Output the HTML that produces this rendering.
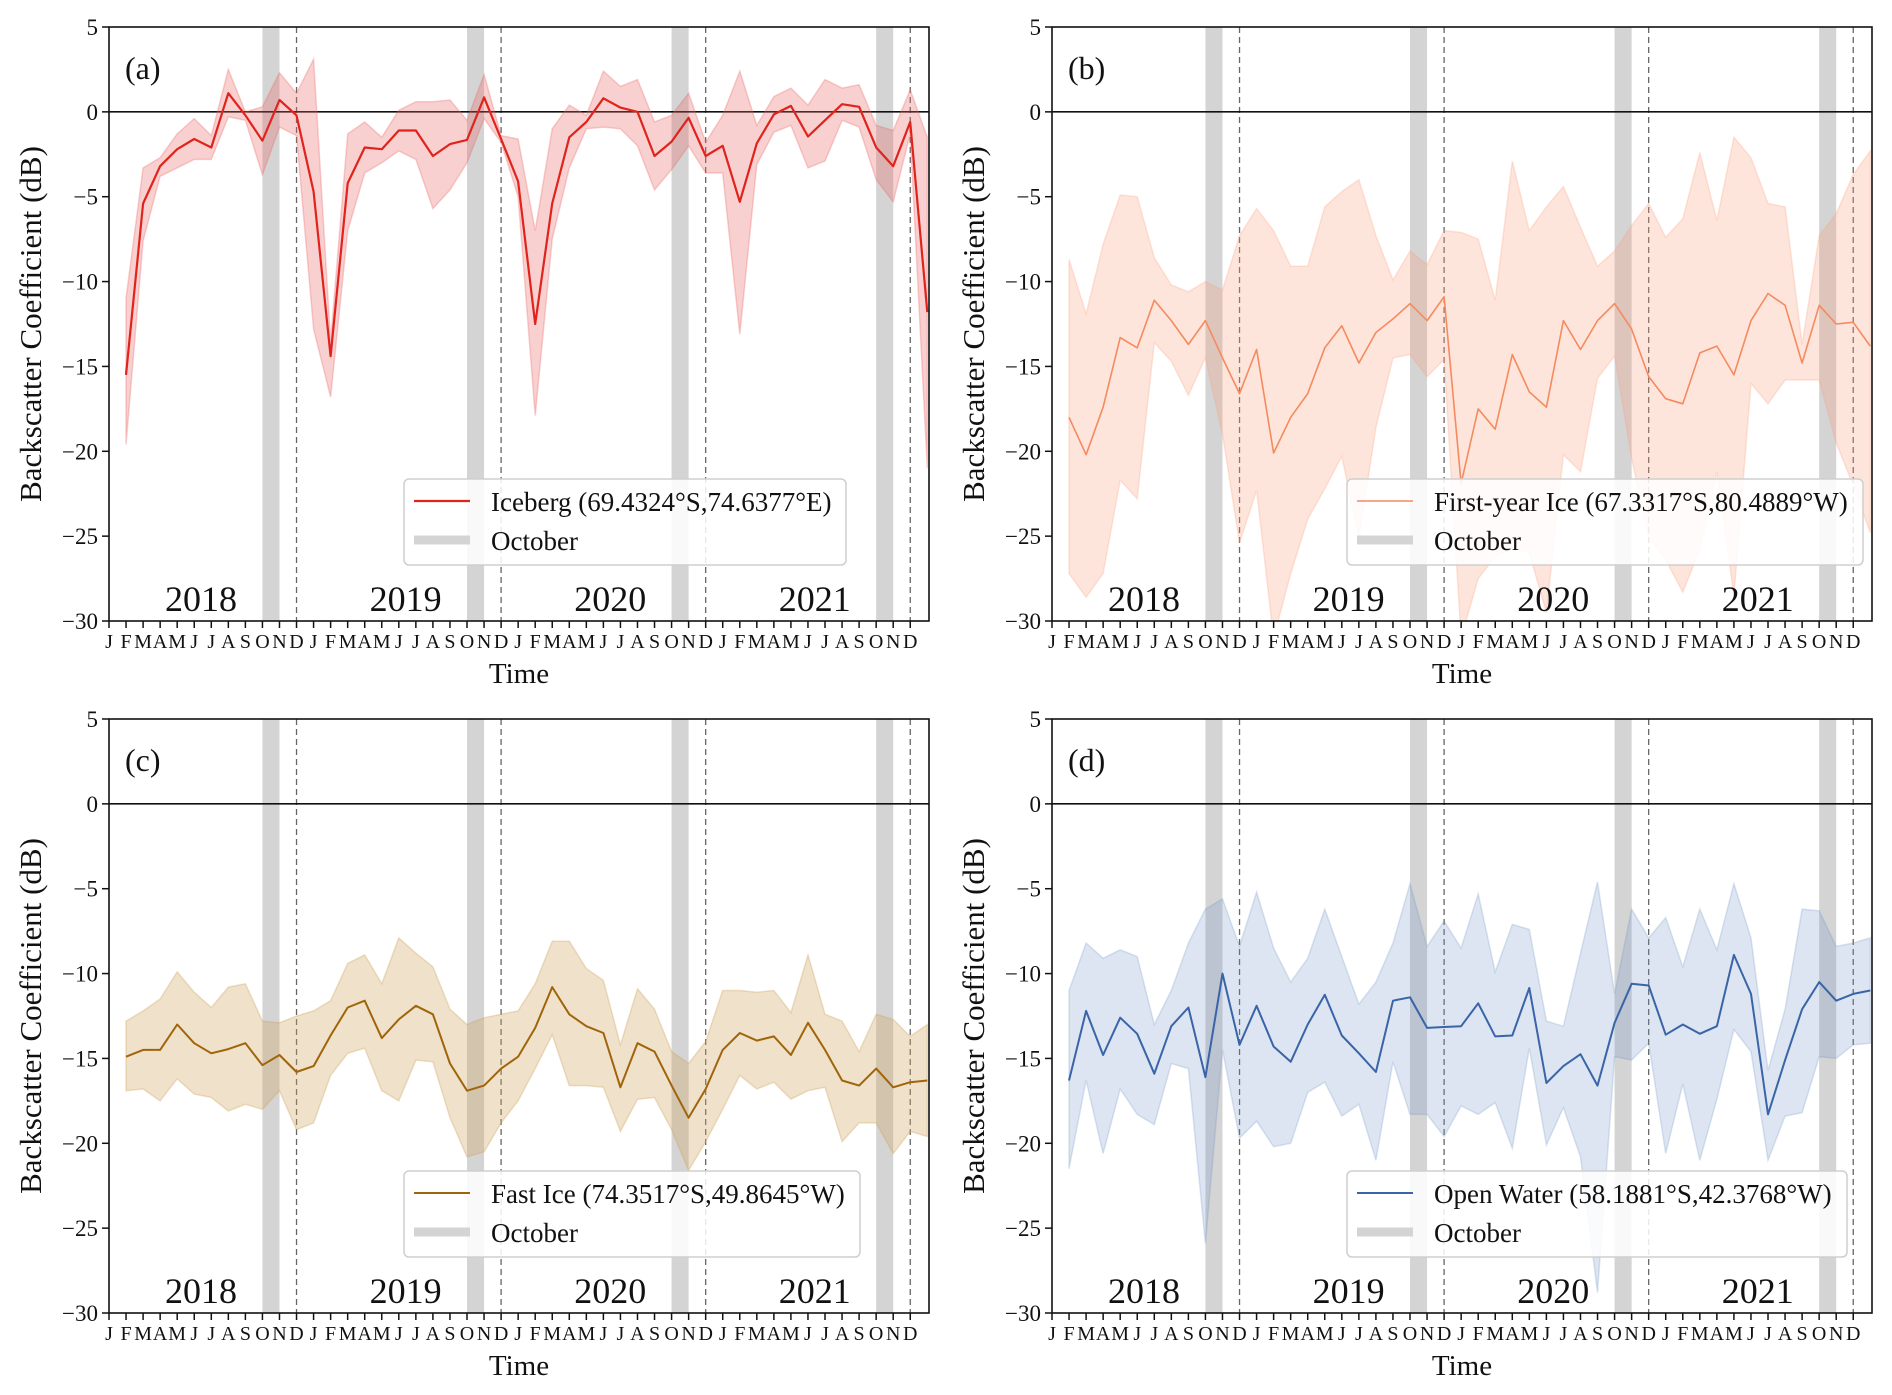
<!DOCTYPE html>
<html><head><meta charset="utf-8"><style>
html,body{margin:0;padding:0;background:#fff;}
svg{display:block;font-family:"Liberation Serif","DejaVu Serif",serif;}
</style></head><body>
<svg id="fig" width="1892" height="1395" viewBox="0 0 1892 1395" xmlns="http://www.w3.org/2000/svg"></svg>
<script>
const monthLabels = ["J","F","M","A","M","J","J","A","S","O","N","D"];
const years = ["2018","2019","2020","2021"];
const yTicks = [5,0,-5,-10,-15,-20,-25,-30];
const octoberStarts = [9,21,33,45];
const yearEnds = [11,23,35,47];

const icebergMean = [-15.5,-5.4,-3.2,-2.2,-1.6,-2.1,1.1,-0.2,-1.7,0.7,-0.2,-4.7,-14.4,-4.2,-2.1,-2.2,-1.1,-1.1,-2.6,-1.9,-1.65,0.85,-1.6,-4.1,-12.5,-5.4,-1.5,-0.6,0.8,0.25,0,-2.6,-1.75,-0.35,-2.6,-2,-5.3,-1.85,-0.15,0.35,-1.45,-0.5,0.45,0.3,-2.1,-3.2,-0.6,-11.8];
const icebergUpper = [-11,-3.3,-2.7,-1.3,-0.4,-1.4,2.5,0,0.3,2.3,1.1,3.1,-13.5,-1.3,-0.6,-1.5,0.1,0.6,0.6,0.7,-0.5,2.2,-1.4,-1.6,-7,-1,0.4,-0.2,2.4,1.5,1.9,-0.6,-0.2,1.1,-1.8,-0.2,2.4,-0.8,0.9,1.4,0.4,1.9,1.4,1.6,-0.8,-1.1,1.3,-1.5];
const icebergLower = [-19.6,-7.6,-3.8,-3.3,-2.8,-2.8,-0.3,-0.5,-3.7,-0.9,-1.4,-12.8,-16.8,-7,-3.6,-3,-2.3,-2.8,-5.7,-4.6,-3,-0.4,-1.8,-5,-17.9,-7.5,-3.3,-1,-0.9,-1,-2,-4.6,-3.4,-2,-3.6,-3.6,-13.1,-3.1,-1.2,-0.8,-3.3,-2.9,-0.5,-0.9,-4,-5.3,-1.3,-21];

const fyiMean = [-18,-20.2,-17.4,-13.3,-13.9,-11.1,-12.3,-13.7,-12.3,-14.5,-16.6,-14,-20.1,-18,-16.6,-13.9,-12.6,-14.8,-13,-12.2,-11.3,-12.3,-10.9,-21.9,-17.5,-18.7,-14.3,-16.5,-17.4,-12.3,-14,-12.3,-11.3,-12.8,-15.6,-16.9,-17.2,-14.2,-13.8,-15.5,-12.3,-10.7,-11.4,-14.8,-11.4,-12.5,-12.4,-13.8];
const fyiUpper = [-8.7,-11.9,-7.8,-4.9,-5,-8.6,-10.2,-10.6,-10,-10.5,-7.3,-5.7,-7,-9.1,-9.1,-5.6,-4.7,-4,-7.3,-9.9,-8.2,-9,-7,-7.1,-7.5,-11.1,-2.9,-7,-5.6,-4.4,-6.8,-9.1,-8.2,-6.7,-5.4,-7.4,-6.3,-2.4,-6.4,-1.5,-2.7,-5.4,-5.6,-13.7,-7.3,-6,-3.7,-2.3];
const fyiLower = [-27.2,-28.6,-27.2,-21.7,-22.8,-13.6,-14.7,-16.7,-14.5,-19,-25.4,-22.3,-31,-27.2,-24,-22.2,-20.3,-25.1,-18.6,-14.5,-14.3,-15.6,-14.6,-31,-27.5,-26.2,-25.7,-26,-29.5,-20.2,-21.2,-15.7,-14.4,-20.4,-25.1,-26.4,-28.3,-25.8,-21.2,-28.5,-16,-17.2,-15.8,-15.8,-15.8,-19.5,-22,-24.8];

const fastMean = [-14.9,-14.5,-14.5,-13,-14.1,-14.7,-14.45,-14.1,-15.4,-14.8,-15.8,-15.45,-13.65,-12,-11.6,-13.8,-12.7,-11.9,-12.4,-15.3,-16.9,-16.6,-15.6,-14.9,-13.2,-10.8,-12.4,-13.1,-13.5,-16.7,-14.1,-14.6,-16.6,-18.5,-16.8,-14.5,-13.5,-13.95,-13.7,-14.8,-12.9,-14.5,-16.3,-16.6,-15.6,-16.7,-16.4,-16.3];
const fastUpper = [-12.8,-12.2,-11.5,-9.9,-11.1,-12,-10.8,-10.6,-12.8,-12.9,-12.5,-12.2,-11.6,-9.4,-8.9,-10.6,-7.9,-8.8,-9.6,-12.1,-13,-12.6,-12.4,-12.2,-10.6,-8.1,-8.1,-9.7,-10.4,-14.2,-10.9,-12.1,-14.6,-15.3,-14,-11,-11,-11.1,-11,-12.3,-8.9,-12.4,-12.8,-14.6,-12.4,-12.7,-13.7,-13];
const fastLower = [-16.9,-16.8,-17.5,-16.2,-17.1,-17.3,-18.1,-17.7,-18,-16.9,-19.2,-18.8,-16,-14.7,-14.4,-16.9,-17.5,-15.1,-15.2,-18.5,-20.8,-20.5,-18.8,-17.5,-15.6,-13.6,-16.6,-16.6,-16.7,-19.3,-17.4,-17.3,-19.2,-21.6,-19.9,-18,-16,-16.8,-16.4,-17.4,-16.9,-16.7,-19.9,-18.8,-18.8,-20.6,-19.3,-19.6];

const waterMean = [-16.3,-12.2,-14.8,-12.6,-13.55,-15.9,-13.1,-12,-16.1,-10,-14.2,-11.9,-14.3,-15.2,-13,-11.25,-13.65,-14.7,-15.8,-11.6,-11.4,-13.2,-13.15,-13.1,-11.75,-13.7,-13.65,-10.85,-16.45,-15.45,-14.75,-16.6,-12.9,-10.6,-10.7,-13.6,-13,-13.55,-13.1,-8.9,-11.2,-18.3,-15.1,-12.1,-10.5,-11.6,-11.2,-11];
const waterUpper = [-11,-8.2,-9.1,-8.6,-9,-13,-11,-8.2,-6.2,-5.6,-8.4,-5.2,-8.5,-10.5,-9.1,-6.2,-9,-11.8,-10.5,-8.2,-4.7,-8.4,-6.9,-8.5,-5.3,-9.9,-7.1,-7.4,-12.8,-13.1,-8.8,-4.6,-11.2,-6.2,-7.9,-6.7,-9.6,-6.2,-8.6,-4.7,-7.9,-15.7,-12.1,-6.2,-6.3,-8.4,-8.2,-7.9];
const waterLower = [-21.5,-16.3,-20.6,-16.8,-18.3,-18.9,-15.3,-15.6,-25.9,-14.5,-19.7,-18.7,-20.2,-20,-17,-16.4,-18.4,-17.7,-21,-15.2,-18.3,-18.3,-19.6,-17.8,-18.3,-17.6,-20.3,-14.4,-20.1,-17.9,-20.8,-28.8,-14.9,-15.1,-14.1,-20.6,-16.5,-21,-17.4,-13.3,-14.6,-21,-18.4,-18.2,-14.9,-15,-14.2,-14.1];

const panels = [
 {id:"a", tag:"(a)", name:"Iceberg (69.4324°S,74.6377°E)", x0:109, x1:929, y0:27, y1:621, mean:icebergMean, up:icebergUpper, lo:icebergLower, line:"#e0231c", fill:"rgba(235,100,100,0.30)", lw:2.2, legW:442},
 {id:"b", tag:"(b)", name:"First-year Ice (67.3317°S,80.4889°W)", x0:1052, x1:1872, y0:27, y1:621, mean:fyiMean, up:fyiUpper, lo:fyiLower, line:"#f58a5f", fill:"rgba(250,160,125,0.27)", lw:1.6, legW:516},
 {id:"c", tag:"(c)", name:"Fast Ice (74.3517°S,49.8645°W)", x0:109, x1:929, y0:719, y1:1313, mean:fastMean, up:fastUpper, lo:fastLower, line:"#a0640a", fill:"rgba(205,165,95,0.33)", lw:2.0, legW:456},
 {id:"d", tag:"(d)", name:"Open Water (58.1881°S,42.3768°W)", x0:1052, x1:1872, y0:719, y1:1313, mean:waterMean, up:waterUpper, lo:waterLower, line:"#3a64a8", fill:"rgba(110,145,195,0.24)", lw:2.0, legW:500}
];

const NS="http://www.w3.org/2000/svg";
const svg=document.getElementById('fig');
function mk(tag,attrs,parent){const e=document.createElementNS(NS,tag);for(const k in attrs)e.setAttribute(k,attrs[k]);(parent||svg).appendChild(e);return e;}

panels.forEach(p=>{
  const XMAX=48.1, YMIN=-30, YMAX=5;
  const sx=m=>p.x0+(m/XMAX)*(p.x1-p.x0);
  const sy=v=>p.y0+(YMAX-v)/(YMAX-YMIN)*(p.y1-p.y0);
  const g=mk('g',{});
  
  
  const clip=mk('clipPath',{id:'clip'+p.id},g);
  mk('rect',{x:p.x0,y:p.y0,width:p.x1-p.x0,height:p.y1-p.y0},clip);
  const plot=mk('g',{'clip-path':'url(#clip'+p.id+')'},g);
  octoberStarts.forEach(o=>{
    const r=mk('rect',{x:sx(o),y:p.y0,width:sx(o+1)-sx(o),height:p.y1-p.y0,fill:'#d4d4d4'},plot);
    
    
  });
  yearEnds.forEach(e=>{
    const l=mk('line',{x1:sx(e),x2:sx(e),y1:p.y0,y2:p.y1,stroke:'#666','stroke-width':1.3,'stroke-dasharray':'6,4'},plot);
    
    
  });
  mk('line',{x1:p.x0,x2:p.x1,y1:sy(0),y2:sy(0),stroke:'#111','stroke-width':1.6},plot);
  let d='';
  p.up.forEach((v,i)=>{d+=(i?'L':'M')+sx(i+1).toFixed(1)+','+sy(v).toFixed(1);});
  for(let i=p.lo.length-1;i>=0;i--){d+='L'+sx(i+1).toFixed(1)+','+sy(p.lo[i]).toFixed(1);}
  d+='Z';
  const band=mk('path',{d:d,fill:p.fill,stroke:p.fill,'stroke-width':1.5},plot);
  
  
  const pts=p.mean.map((v,i)=>sx(i+1).toFixed(1)+','+sy(v).toFixed(1)).join(' ');
  const ln=mk('polyline',{points:pts,fill:'none',stroke:p.line,'stroke-width':p.lw,'stroke-linejoin':'round'},plot);
  
  
  mk('rect',{x:p.x0,y:p.y0,width:p.x1-p.x0,height:p.y1-p.y0,fill:'none',stroke:'#111','stroke-width':1.6},g);
  yTicks.forEach(v=>{
    mk('line',{x1:p.x0-7,x2:p.x0,y1:sy(v),y2:sy(v),stroke:'#111','stroke-width':1.5},g);
    const t=mk('text',{x:p.x0-11,y:sy(v)+8,'text-anchor':'end','font-size':23,fill:'#111'},g);
    
    
    t.textContent=v<0?'\u2212'+Math.abs(v):String(v);
  });
  for(let m=0;m<48;m++){
    mk('line',{x1:sx(m),x2:sx(m),y1:p.y1,y2:p.y1+7,stroke:'#111','stroke-width':1.5},g);
    const t=mk('text',{x:sx(m),y:p.y1+27,'text-anchor':'middle','font-size':20,fill:'#111'},g);
    
    
    t.textContent=monthLabels[m%12];
  }
  years.forEach((yr,i)=>{
    const t=mk('text',{x:sx(i*12+5.4),y:p.y1-10,'text-anchor':'middle','font-size':36,fill:'#111'},g);
    
    
    t.textContent=yr;
  });
  const tg=mk('text',{x:p.x0+16,y:p.y0+52,'font-size':32,fill:'#111'},g);
  
  
  tg.textContent=p.tag;
  const yl=mk('text',{x:0,y:0,transform:'translate('+(p.x0-68)+','+((p.y0+p.y1)/2)+') rotate(-90)','text-anchor':'middle','font-size':31,fill:'#111'},g);
  
  
  yl.textContent='Backscatter Coefficient (dB)';
  const xl=mk('text',{x:(p.x0+p.x1)/2,y:p.y1+62,'text-anchor':'middle','font-size':29,fill:'#111'},g);
  
  
  xl.textContent='Time';
  const lg=mk('g',{},g);
  
  
  const lx=p.x0+295, ly=p.y0+452;
  mk('rect',{x:lx,y:ly,width:p.legW,height:86,rx:5,fill:'rgba(255,255,255,0.85)',stroke:'#cfcfcf','stroke-width':1.5},lg);
  mk('line',{x1:lx+10,x2:lx+66,y1:ly+22,y2:ly+22,stroke:p.line,'stroke-width':p.lw},lg);
  const t1=mk('text',{x:lx+87,y:ly+32,'font-size':27,fill:'#111'},lg);
  
  
  t1.textContent=p.name;
  mk('line',{x1:lx+10,x2:lx+66,y1:ly+61,y2:ly+61,stroke:'#d4d4d4','stroke-width':9},lg);
  const t2=mk('text',{x:lx+87,y:ly+71,'font-size':27,fill:'#111'},lg);
  
  
  t2.textContent='October';
});
</script>
</body></html>
